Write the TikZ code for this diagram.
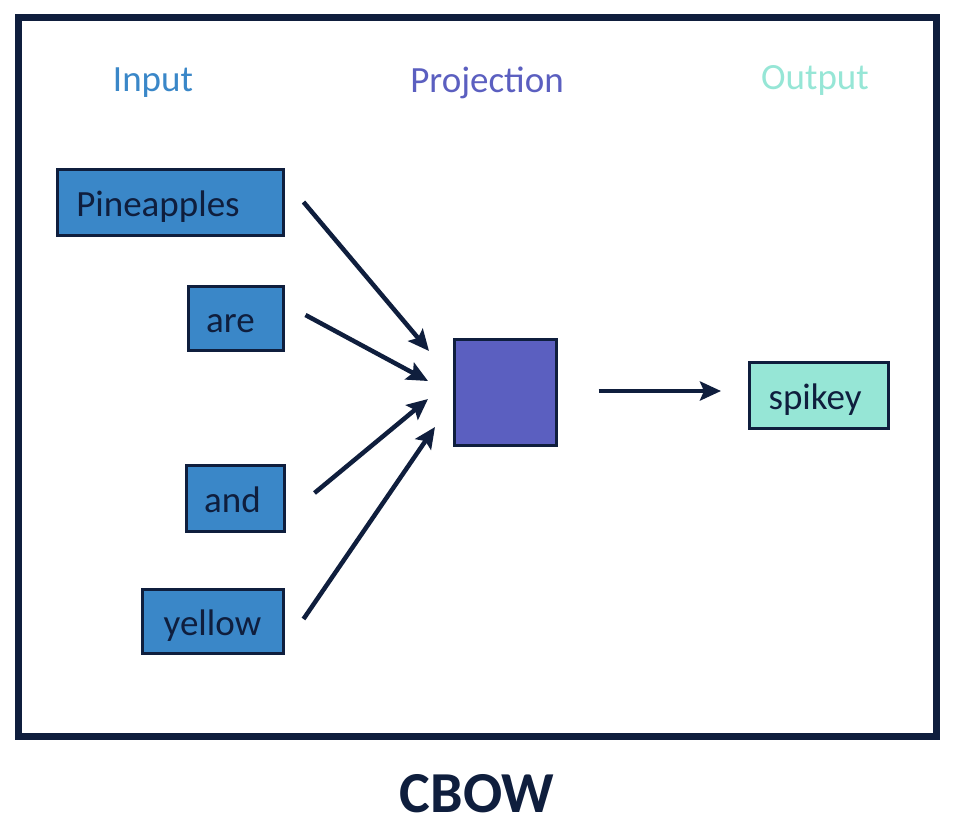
\documentclass[tikz,border=0pt]{standalone}
\usepackage{fontspec}
\setmainfont{Carlito}
\usetikzlibrary{arrows.meta}
\definecolor{navy}{HTML}{0F1E3D}
\definecolor{inblue}{HTML}{3A87C8}
\definecolor{projblue}{HTML}{5B5FC0}
\definecolor{outgreen}{HTML}{96E6D6}
\tikzset{
  wordbox/.style={draw=navy, line width=3pt, fill=inblue, text=navy, inner sep=0pt, text height=32pt, text depth=3pt, font=\fontsize{37}{40}\selectfont},
  head/.style={inner sep=0pt, font=\fontsize{37}{40}\selectfont},
  arr/.style={draw=navy, line width=4.5pt, -{Stealth[length=21pt,width=19pt,inset=4pt]}}
}
\begin{document}
\begin{tikzpicture}[x=1pt,y=-1pt]
\useasboundingbox (0,0) rectangle (958,828);
\fill[white] (0,0) rectangle (958,828);
\draw[navy, line width=7pt] (18.5,17.5) rectangle (936.5,736.5);

\node[head, text=inblue] (hin) at (153,83) {Input};
\node[head, text=projblue] (hproj) at (487,83) {Projection};
\node[head, text=outgreen] (hout) at (815,80) {Output};

\node[wordbox, minimum width=226pt, minimum height=66pt] (pine) at (170,202) {Pineapples\hspace*{24pt}};
\node[wordbox, minimum width=95pt, minimum height=64pt] (are) at (235.5,318) {are\hspace*{10pt}};
\node[wordbox, minimum width=98pt, minimum height=66pt] (and) at (235,498) {and\hspace*{5pt}};
\node[wordbox, minimum width=141pt, minimum height=64pt] (yellow) at (212.5,621) {yellow};

\node[draw=navy, line width=3pt, fill=projblue, minimum width=102pt, minimum height=106pt, inner sep=0pt] (proj) at (505,392) {};
\node[wordbox, fill=outgreen, minimum width=139pt, minimum height=66pt] (spk) at (818.5,395) {spikey\hspace*{7pt}};

\coordinate (t1) at (429,351);
\coordinate (t2) at (428,381);
\coordinate (t3) at (428,399);
\coordinate (t4) at (435,427);
\coordinate (t5) at (721,391);

\draw[arr] ([xshift=19pt]pine.east) -- (t1);
\draw[arr] ([xshift=21pt,yshift=3pt]are.east) -- (t2);
\draw[arr] ([xshift=29pt,yshift=5pt]and.east) -- (t3);
\draw[arr] ([xshift=19pt,yshift=2pt]yellow.east) -- (t4);
\draw[arr] ([xshift=41pt,yshift=1pt]proj.east) -- (t5);

\node[inner sep=0pt, text=navy, font=\fontsize{58}{62}\selectfont\bfseries] (title) at (477,794) {CBOW};
\end{tikzpicture}
\end{document}
